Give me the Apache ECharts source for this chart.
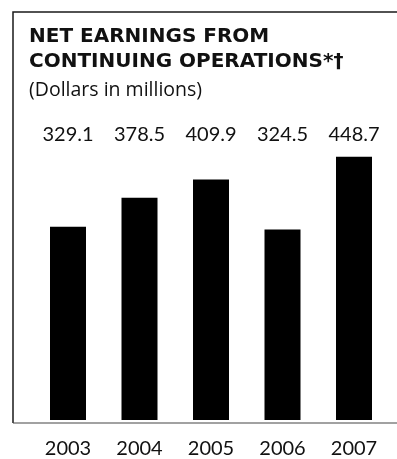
<!DOCTYPE html>
<html>
<head>
<meta charset="utf-8">
<script src="https://cdn.jsdelivr.net/npm/echarts@6/dist/echarts.min.js"></script>
<style>
  html, body { margin: 0; padding: 0; background: #fff; }
  #chart { width: 397px; height: 459px; }
</style>
</head>
<body>
<div id="chart"></div>
<script>
// Net earnings from continuing operations, dollars in millions
const years = ['2003', '2004', '2005', '2006', '2007'];
const earnings = [329.1, 378.5, 409.9, 324.5, 448.7];
const valueLabels = earnings.map(v => v.toFixed(1));

const TITLE_FONT = '"DejaVu Sans"';
const SUB_FONT = '"Open Sans"';
const NUM_FONT = 'Lato';
const INK = '#111';

const chart = echarts.init(document.getElementById('chart'), null, { renderer: 'canvas' });

chart.setOption({
  backgroundColor: '#fff',
  animation: false,
  title: {
    text: 'NET EARNINGS FROM\nCONTINUING OPERATIONS*\u2020',
    subtext: '(Dollars in millions)',
    left: 24,
    top: 19,
    itemGap: 5,
    textStyle: { fontFamily: TITLE_FONT, fontWeight: 'bold', fontSize: 20, lineHeight: 25, color: INK },
    subtextStyle: { fontFamily: SUB_FONT, fontSize: 19.5, lineHeight: 22, color: INK }
  },
  grid: { left: 32.25, right: 7.25, top: 150, bottom: 36, containLabel: false },
  xAxis: [
    {
      type: 'category',
      data: years,
      position: 'bottom',
      axisLine: { show: false },
      axisTick: { show: false },
      axisLabel: { fontFamily: NUM_FONT, fontSize: 20, color: INK, margin: 19 }
    },
    {
      type: 'category',
      data: valueLabels,
      position: 'top',
      axisLine: { show: false },
      axisTick: { show: false },
      axisLabel: { fontFamily: NUM_FONT, fontSize: 20, color: INK, margin: 5 }
    }
  ],
  yAxis: {
    type: 'value',
    min: 0,
    max: 460,
    show: false,
    splitLine: { show: false }
  },
  series: [{
    type: 'bar',
    data: earnings,
    barWidth: 36,
    itemStyle: { color: '#000' }
  }],
  graphic: [
    { type: 'polyline', silent: true,
      shape: { points: [[13, 423], [13, 12], [397, 12]] },
      style: { stroke: '#1a1a1a', lineWidth: 1.5, fill: null } },
    { type: 'line', silent: true,
      shape: { x1: 13, y1: 423, x2: 397, y2: 423 },
      style: { stroke: '#444', lineWidth: 1.2 } }
  ]
});
</script>
</body>
</html>
